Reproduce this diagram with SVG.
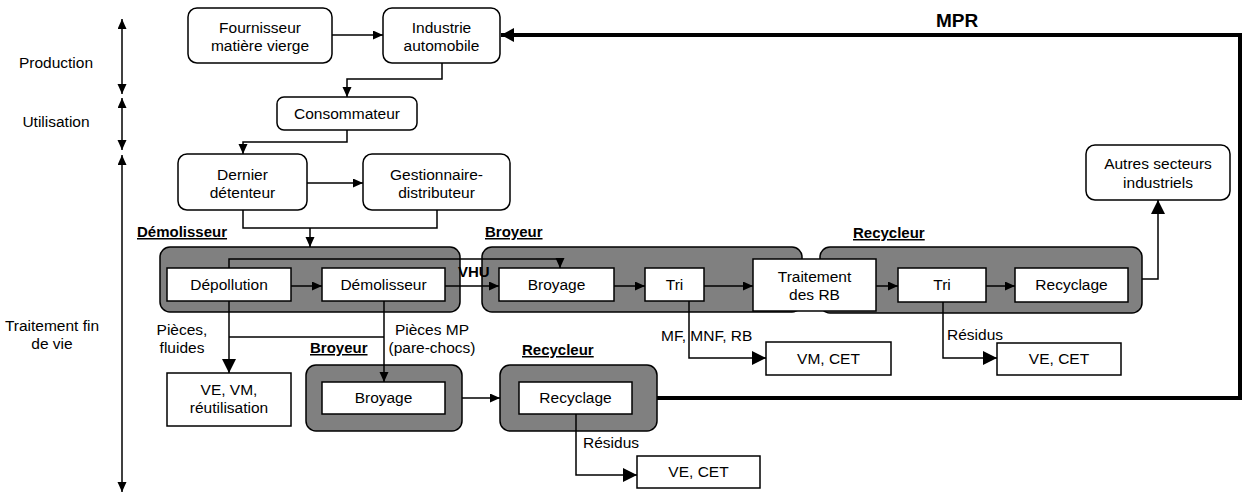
<svg xmlns="http://www.w3.org/2000/svg" width="1246" height="495" viewBox="0 0 1246 495">
<style>
text{font-family:"Liberation Sans",Arial,sans-serif;font-size:15.5px;fill:#000}
.c{text-anchor:middle}
.b{font-weight:bold;font-size:15px}
.u{font-weight:bold;font-size:15px;text-decoration:underline}
.rb{fill:#fff;stroke:#000;stroke-width:1.5}
.grp{fill:#808080;stroke:#000;stroke-width:1.5}
.ln{fill:none;stroke:#000;stroke-width:1.5}
.thk{fill:none;stroke:#000;stroke-width:4}
</style>
<defs>
<marker id="a" markerUnits="userSpaceOnUse" markerWidth="10" markerHeight="10" refX="10" refY="4.5" orient="auto-start-reverse"><path d="M0,0 L10,4.5 L0,9 z" fill="#000"/></marker>
<marker id="big" markerUnits="userSpaceOnUse" markerWidth="16" markerHeight="16" refX="14" refY="7" orient="auto-start-reverse"><path d="M0,0 L14,7 L0,14 z" fill="#000"/></marker>
<marker id="thick" markerUnits="userSpaceOnUse" markerWidth="16" markerHeight="16" refX="13" refY="7" orient="auto-start-reverse"><path d="M0,0 L13,7 L0,14 z" fill="#000"/></marker>
</defs>

<g id="phases">
<line class="ln" x1="122" y1="19" x2="122" y2="94" marker-start="url(#a)" marker-end="url(#a)"/>
<line class="ln" x1="122" y1="98" x2="122" y2="150" marker-start="url(#a)" marker-end="url(#a)"/>
<line class="ln" x1="122" y1="155" x2="122" y2="492" marker-start="url(#a)" marker-end="url(#a)"/>
<text class="c" x="56" y="68">Production</text>
<text class="c" x="56" y="127">Utilisation</text>
<text class="c" x="52" y="331">Traitement fin</text>
<text class="c" x="52" y="349">de vie</text>
</g>

<g id="groups">
<rect id="grp-demolisseur" class="grp" x="160" y="247" width="300" height="65" rx="10"/>
<rect id="grp-broyeur" class="grp" x="482" y="247" width="320" height="65" rx="10"/>
<rect id="grp-recycleur" class="grp" x="820" y="247" width="322" height="66" rx="10"/>
<rect id="grp-broyeur2" class="grp" x="306" y="365" width="156" height="66" rx="10"/>
<rect id="grp-recycleur2" class="grp" x="500" y="365" width="157" height="66" rx="10"/>
<text class="u" x="137" y="237">Démolisseur</text>
<text class="u" x="485" y="237">Broyeur</text>
<text class="u" x="853" y="238">Recycleur</text>
<text class="u" x="310" y="353">Broyeur</text>
<text class="u" x="522" y="355">Recycleur</text>
</g>

<g id="connectors">
<polyline class="ln" points="332,35 383,35" marker-end="url(#a)"/>
<polyline class="ln" points="442,63 442,79 347,79 347,97" marker-end="url(#a)"/>
<polyline class="ln" points="347,130 347,142 243,142 243,154" marker-end="url(#a)"/>
<polyline class="ln" points="307,183 363,183" marker-end="url(#a)"/>
<polyline class="ln" points="243,210 243,228 437,228 437,210"/>
<polyline class="ln" points="310,228 310,247" marker-end="url(#a)"/>
<polyline class="ln" points="291,286 322,286" marker-end="url(#a)"/>
<polyline class="ln" points="229,268 229,259 560,259 560,268" marker-end="url(#a)"/>
<polyline class="ln" points="445,286 499,286" marker-end="url(#a)"/>
<polyline class="ln" points="614,286 645,286" marker-end="url(#a)"/>
<polyline class="ln" points="704,286 753,286" marker-end="url(#a)"/>
<polyline class="ln" points="876,286 898,286" marker-end="url(#a)"/>
<polyline class="ln" points="986,286 1015,286" marker-end="url(#a)"/>
<polyline class="ln" points="1142,279 1158,279 1158,200" marker-end="url(#big)"/>
<polyline class="ln" points="689,301 689,358 766,358" marker-end="url(#big)"/>
<polyline class="ln" points="943,302 943,358 997,358" marker-end="url(#big)"/>
<polyline class="ln" points="229,301 229,373" stroke-width="2" marker-end="url(#big)"/>
<polyline class="ln" points="384,301 384,382" marker-end="url(#a)"/>
<polyline class="ln" points="229,337 384,337"/>
<polyline class="ln" points="462,398 500,398" marker-end="url(#a)"/>
<polyline class="ln" points="576,414 576,475 637,475" marker-end="url(#big)"/>
<polyline class="thk" points="657,398 1240,398 1240,35 501,35" marker-end="url(#thick)"/>
<text class="b" x="936" y="27" style="font-size:19px">MPR</text>
<text class="b" x="458" y="277">VHU</text>
<text class="c" x="182" y="335">Pièces,</text>
<text class="c" x="182" y="353">fluides</text>
<text class="c" x="432" y="335">Pièces MP</text>
<text class="c" x="432" y="353">(pare-chocs)</text>
<text x="661" y="341">MF, MNF, RB</text>
<text x="947" y="340">Résidus</text>
<text x="583" y="448">Résidus</text>
</g>

<g id="fournisseur"><rect class="rb" x="188" y="8" width="144" height="55" rx="9"/><text class="c" x="260" y="33">Fournisseur</text><text class="c" x="260" y="51">matière vierge</text></g>
<g id="industrie"><rect class="rb" x="383" y="8" width="117" height="55" rx="9"/><text class="c" x="441.5" y="33">Industrie</text><text class="c" x="441.5" y="51">automobile</text></g>
<g id="consommateur"><rect class="rb" x="277" y="97" width="140" height="33" rx="7"/><text class="c" x="347" y="119">Consommateur</text></g>
<g id="dernier"><rect class="rb" x="178" y="154" width="129" height="56" rx="9"/><text class="c" x="242.5" y="180">Dernier</text><text class="c" x="242.5" y="198">détenteur</text></g>
<g id="gestionnaire"><rect class="rb" x="363" y="154" width="147" height="56" rx="9"/><text class="c" x="436.5" y="180">Gestionnaire-</text><text class="c" x="436.5" y="198">distributeur</text></g>
<g id="autres"><rect class="rb" x="1086" y="145" width="144" height="55" rx="9"/><text class="c" x="1158" y="169">Autres secteurs</text><text class="c" x="1158" y="188">industriels</text></g>

<g id="depollution"><rect class="rb" x="167" y="268" width="124" height="33"/><text class="c" x="229" y="290">Dépollution</text></g>
<g id="demolisseur"><rect class="rb" x="322" y="268" width="123" height="33"/><text class="c" x="383.5" y="290">Démolisseur</text></g>
<g id="broyage"><rect class="rb" x="499" y="268" width="115" height="33"/><text class="c" x="556.5" y="290">Broyage</text></g>
<g id="tri"><rect class="rb" x="645" y="268" width="59" height="33"/><text class="c" x="674.5" y="290">Tri</text></g>
<g id="traitement"><rect class="rb" x="753" y="259" width="123" height="52"/><text class="c" x="814.5" y="282">Traitement</text><text class="c" x="814.5" y="300">des RB</text></g>
<g id="tri2"><rect class="rb" x="898" y="268" width="88" height="34"/><text class="c" x="942" y="290">Tri</text></g>
<g id="recyclage"><rect class="rb" x="1015" y="268" width="113" height="34"/><text class="c" x="1071.5" y="290">Recyclage</text></g>
<g id="broyage2"><rect class="rb" x="322" y="382" width="123" height="32"/><text class="c" x="383.5" y="403">Broyage</text></g>
<g id="recyclage2"><rect class="rb" x="519" y="382" width="113" height="32"/><text class="c" x="575.5" y="403">Recyclage</text></g>

<g id="ve-vm"><rect class="rb" x="167" y="373" width="124" height="53"/><text class="c" x="229" y="395">VE, VM,</text><text class="c" x="229" y="413">réutilisation</text></g>
<g id="vm-cet"><rect class="rb" x="766" y="342" width="125" height="33"/><text class="c" x="828.5" y="364">VM, CET</text></g>
<g id="ve-cet"><rect class="rb" x="997" y="343" width="124" height="32"/><text class="c" x="1059" y="364">VE, CET</text></g>
<g id="ve-cet2"><rect class="rb" x="637" y="456" width="123" height="32"/><text class="c" x="698.5" y="477">VE, CET</text></g>
</svg>
